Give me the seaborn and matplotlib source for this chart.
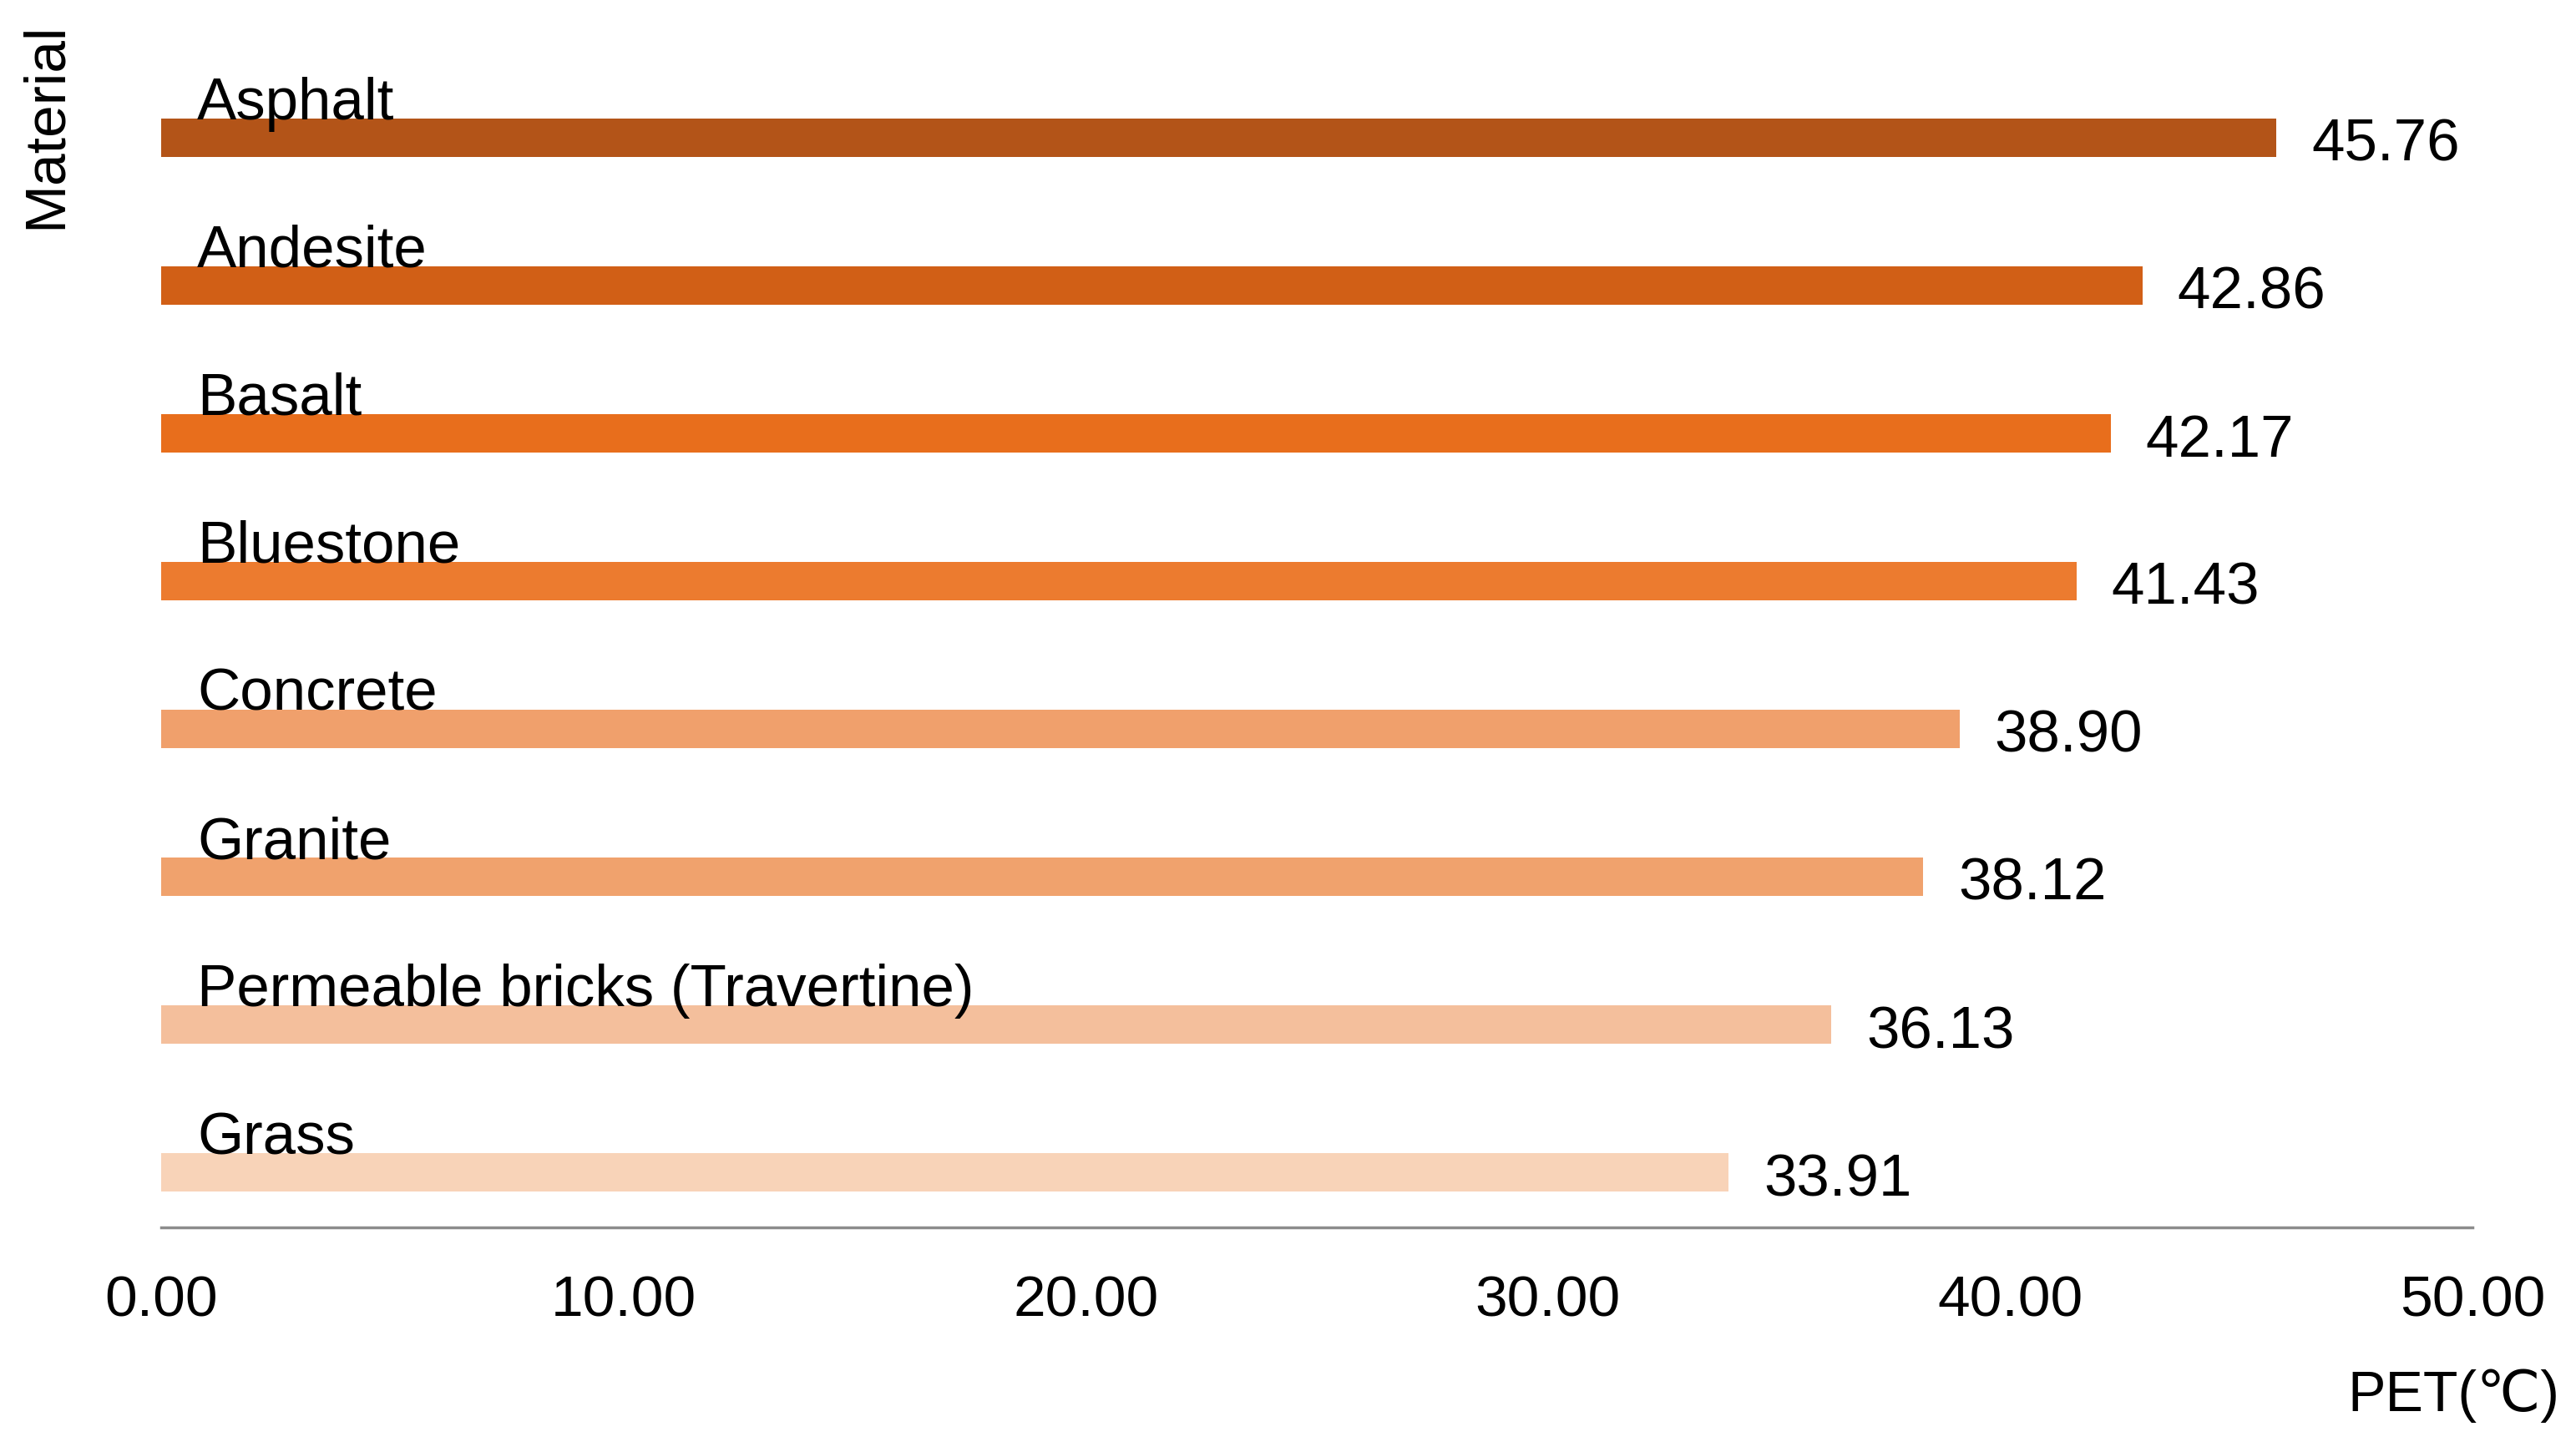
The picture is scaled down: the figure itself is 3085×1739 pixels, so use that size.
import matplotlib
matplotlib.use("Agg")
import matplotlib.pyplot as plt
import seaborn as sns
import pandas as pd

materials = ["Asphalt", "Andesite", "Basalt", "Bluestone", "Concrete",
             "Granite", "Permeable bricks (Travertine)", "Grass"]
pet_values = [45.76, 42.86, 42.17, 41.43, 38.90, 38.12, 36.13, 33.91]
bar_colors = ["#B35418", "#D15F16", "#E86E1C", "#EC7B2F", "#F0A06C",
              "#F0A26D", "#F4BF9C", "#F8D3B8"]
x_ticks = [0, 10, 20, 30, 40, 50]

sns.set_theme(style="white")
plt.rcParams['font.family'] = ['Liberation Sans', 'DejaVu Sans']

df = pd.DataFrame({"Material": materials, "PET": pet_values})

fig = plt.figure(figsize=(30.85, 17.39), dpi=100)
ax = fig.add_axes([193/3085, 1-1470/1739, (2961-193)/3085, (1470-23)/1739])

sns.barplot(data=df, x="PET", y="Material", hue="Material",
            palette=bar_colors, legend=False, width=0.26,
            linewidth=0, saturation=1, ax=ax, orient="h")

ax.set_xlim(0, 50)
ax.set_ylim(7.37, -0.8)
ax.set_xticks(x_ticks)
ax.set_xticklabels([f"{t:.2f}" for t in x_ticks],
                   family=['Liberation Sans Narrow', 'Liberation Sans', 'DejaVu Sans'],
                   fontsize=50)
ax.tick_params(axis='x', length=0, pad=41, colors='black')
ax.set_yticks([])
ax.set_xlabel("")
ax.set_ylabel("")
for s in ["top", "right", "left"]:
    ax.spines[s].set_visible(False)
ax.spines["bottom"].set_color("#8c8c8c")
ax.spines["bottom"].set_linewidth(2.5)

for i, (m, v) in enumerate(zip(materials, pet_values)):
    ax.text(0.78, i - 0.125, m, ha='left', va='baseline', fontsize=51,
            family=['Liberation Sans Narrow', 'Liberation Sans', 'DejaVu Sans'],
            color='black')
    ax.text(v + 0.76, i + 0.055, f"{v:.2f}", ha='left', va='center',
            fontsize=51, color='black')

fig.text(3065/3085, 1-1672/1739, "PET(℃)", ha='right', va='center',
         fontsize=49, color='black')
fig.text(55/3085, 1-150/1739, "Material", rotation=90, ha='center',
         va='center', fontsize=50, color='black')

fig.savefig("out.png", dpi=100, facecolor='white')
